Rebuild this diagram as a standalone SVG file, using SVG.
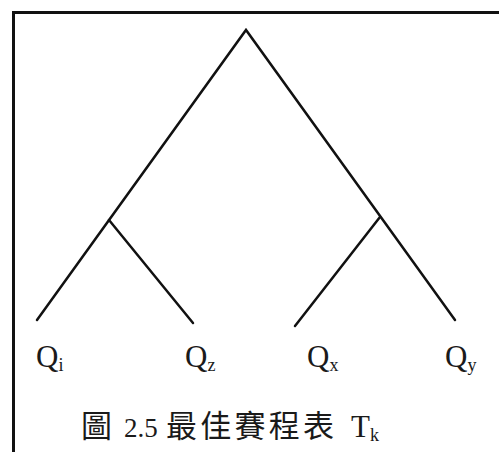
<svg xmlns="http://www.w3.org/2000/svg" width="499" height="452" viewBox="0 0 499 452">
<style>
.e{stroke:#111;stroke-width:2.5;fill:none;stroke-linecap:round}
.lbl{font-family:"Liberation Serif","Noto Sans CJK TC",serif;font-size:31px;fill:#1a1a1a}
.cjk{font-family:"Noto Sans CJK TC","Liberation Serif",sans-serif;font-size:31px}
.num{font-size:27px}
.sub{font-size:18px}
</style>
<rect x="0" y="0" width="499" height="452" fill="#fff"/>
<rect x="13.5" y="12.5" width="500" height="450" fill="none" stroke="#111" stroke-width="3"/>
<g id="connectors">
<path class="e" d="M37 320 L246 30 L455 320"/>
<path class="e" d="M109 220 L193 323"/>
<path class="e" d="M380 217 L295 326"/>
</g>
<g id="node-qi"><text class="lbl" x="36" y="367">Q<tspan class="sub" dy="4">i</tspan></text></g>
<g id="node-qz"><text class="lbl" x="185" y="367">Q<tspan class="sub" dy="4">z</tspan></text></g>
<g id="node-qx"><text class="lbl" x="307" y="367">Q<tspan class="sub" dy="4">x</tspan></text></g>
<g id="node-qy"><text class="lbl" x="445" y="367">Q<tspan class="sub" dy="4">y</tspan></text></g>
<g id="caption"><text class="lbl" y="437"><tspan class="cjk" x="81">圖</tspan><tspan class="num" x="124">2.5</tspan><tspan class="cjk" x="166" textLength="168" lengthAdjust="spacing">最佳賽程表</tspan><tspan x="351">T</tspan><tspan class="sub" dy="4">k</tspan></text></g>
</svg>
